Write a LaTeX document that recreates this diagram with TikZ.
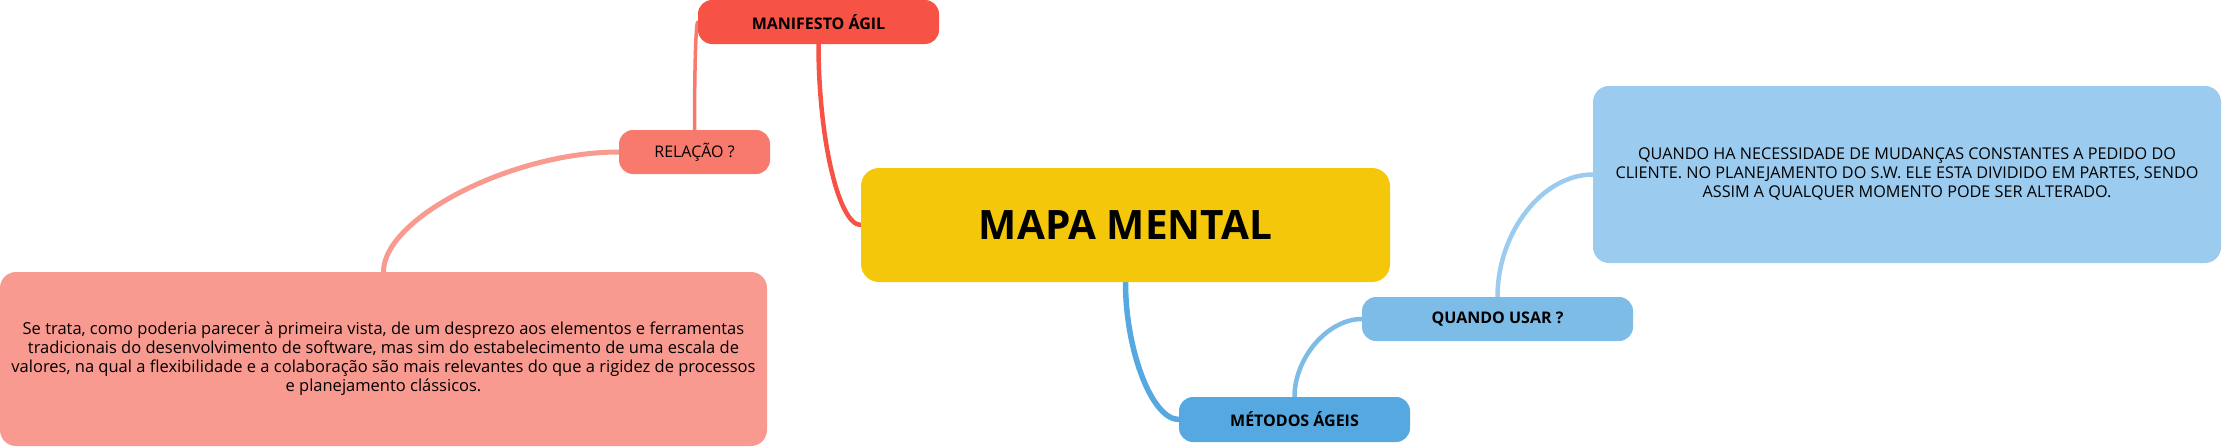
\documentclass[tikz,border=0pt]{standalone}
\usepackage{fontspec}
\setmainfont{Open Sans}
\usetikzlibrary{backgrounds}
\definecolor{cMapa}{HTML}{F5C70A}
\definecolor{cManif}{HTML}{F65245}
\definecolor{cRel}{HTML}{F77A6D}
\definecolor{cPink}{HTML}{F99A90}
\definecolor{cMet}{HTML}{56A9E0}
\definecolor{cQuando}{HTML}{7DBCE7}
\definecolor{cBlue}{HTML}{9BCBEE}
\begin{document}
\begin{tikzpicture}[x=1pt,y=-1pt,
  box/.style={rounded corners=14pt, inner sep=0pt, align=center, text=black,
    font=\fontsize{16}{19}\selectfont},
  lbl/.style={box, font=\bfseries\fontsize{16}{19}\selectfont},
  big/.style={box, rounded corners=16pt},
  conn/.style={line width=#1, line cap=round},
]
\useasboundingbox (0,0) rectangle (2222,447);

% nodes
\node[lbl, fill=cMapa, rounded corners=18pt, minimum width=529pt, minimum height=114pt,
  font=\bfseries\fontsize{40.5}{44}\selectfont] (mapa) at (1125.5,225) {MAPA MENTAL};
\node[lbl, fill=cManif, minimum width=241pt, minimum height=44pt] (manif) at (818.5,22) {MANIFESTO ÁGIL};
\node[box, fill=cRel, minimum width=151pt, minimum height=44pt] (rel) at (694.5,152) {RELAÇÃO ?};
\node[big, fill=cPink, minimum width=767pt, minimum height=174pt,
  font=\fontsize{16.5}{19}\selectfont] (pink) at (383.5,359) {Se trata, como poderia parecer à primeira vista, de um desprezo aos elementos e ferramentas\\tradicionais do desenvolvimento de software, mas sim do estabelecimento de uma escala de\\valores, na qual a flexibilidade e a colaboração são mais relevantes do que a rigidez de processos\\e planejamento clássicos.};
\node[lbl, fill=cMet, minimum width=231pt, minimum height=45pt] (met) at (1294.5,419.5) {MÉTODOS ÁGEIS};
\node[lbl, fill=cQuando, minimum width=271pt, minimum height=44pt] (quando) at (1497.5,319) {QUANDO USAR ?};
\node[big, fill=cBlue, minimum width=628pt, minimum height=177pt,
  font=\fontsize{16.2}{19}\selectfont] (blue) at (1907,174.5) {QUANDO HA NECESSIDADE DE MUDANÇAS CONSTANTES A PEDIDO DO\\CLIENTE. NO PLANEJAMENTO DO S.W. ELE ESTA DIVIDIDO EM PARTES, SENDO\\ASSIM A QUALQUER MOMENTO PODE SER ALTERADO.};

% connectors
\begin{scope}[on background layer]
\draw[conn=4.5pt, cManif] (manif.south) .. controls +(0,95) and +(-22,0) .. (mapa.west);
\draw[conn=3.5pt, cRel] (rel.north) .. controls +(0,-60) and +(-2,0) .. (manif.west);
\draw[conn=5pt, cPink] (rel.west) .. controls +(-106,0) and +(0,-54) .. (pink.north);
\draw[conn=5.5pt, cMet] (mapa.south) .. controls +(0,68) and +(-27,0) .. (met.west);
\draw[conn=4.5pt, cQuando] (met.north) .. controls +(0,-39) and +(-34,0) .. (quando.west);
\draw[conn=4.5pt, cBlue] (quando.north) .. controls +(0,-65) and +(-50,0) .. (blue.west);
\end{scope}
\end{tikzpicture}
\end{document}
